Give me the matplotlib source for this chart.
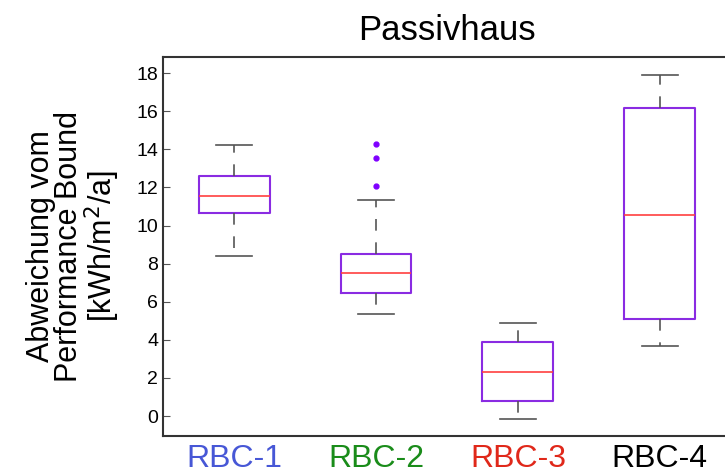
import matplotlib.pyplot as plt

plt.rcParams['font.family'] = ['Liberation Sans', 'DejaVu Sans']

labels = ['RBC-1', 'RBC-2', 'RBC-3', 'RBC-4']
label_colors = ['#4757d6', '#1a8c1a', '#e0281a', 'black']
whislo = [8.4, 5.35, -0.17, 3.67]
q1 = [10.65, 6.45, 0.77, 5.09]
med = [11.54, 7.5, 2.31, 10.53]
q3 = [12.59, 8.5, 3.9, 16.18]
whishi = [14.22, 11.33, 4.88, 17.89]
fliers = [[], [12.07, 13.54, 14.27], [], []]

stats = []
for i in range(len(labels)):
    stats.append({'label': labels[i], 'whislo': whislo[i], 'q1': q1[i], 'med': med[i],
                  'q3': q3[i], 'whishi': whishi[i], 'fliers': fliers[i]})

fig = plt.figure(figsize=(7.25, 4.74), dpi=100)
ax = fig.add_axes([0.225, 0.08, 0.783, 0.80])

ax.bxp(stats, positions=[1, 2, 3, 4], widths=0.5,
       boxprops=dict(color='#8a2be2', linewidth=1.5),
       medianprops=dict(color='#ff4040', linewidth=1.2),
       whiskerprops=dict(color='#555555', linewidth=1.2, linestyle=(0, (7, 7))),
       capprops=dict(color='#555555', linewidth=1.2),
       flierprops=dict(marker='o', markersize=3.5, markerfacecolor='#7f00ff',
                       markeredgecolor='#7f00ff'))

ax.set_xlim(0.5, 4.5)
ax.set_ylim(-1.05, 18.85)
ax.set_yticks(range(0, 19, 2))
ax.tick_params(axis='y', direction='in', length=5, labelsize=14, color='#555555')
ax.tick_params(axis='x', length=0, pad=6, labelsize=23)
for t, c in zip(ax.get_xticklabels(), label_colors):
    t.set_color(c)
for s in ax.spines.values():
    s.set_linewidth(1.5)
    s.set_color('#333333')

ax.set_title('Passivhaus', fontsize=25, pad=12)
ax.set_ylabel('Abweichung vom\nPerformance Bound\n[kWh/m$^2$/a]', fontsize=22,
              linespacing=0.95, labelpad=10)

plt.savefig('out.png')
